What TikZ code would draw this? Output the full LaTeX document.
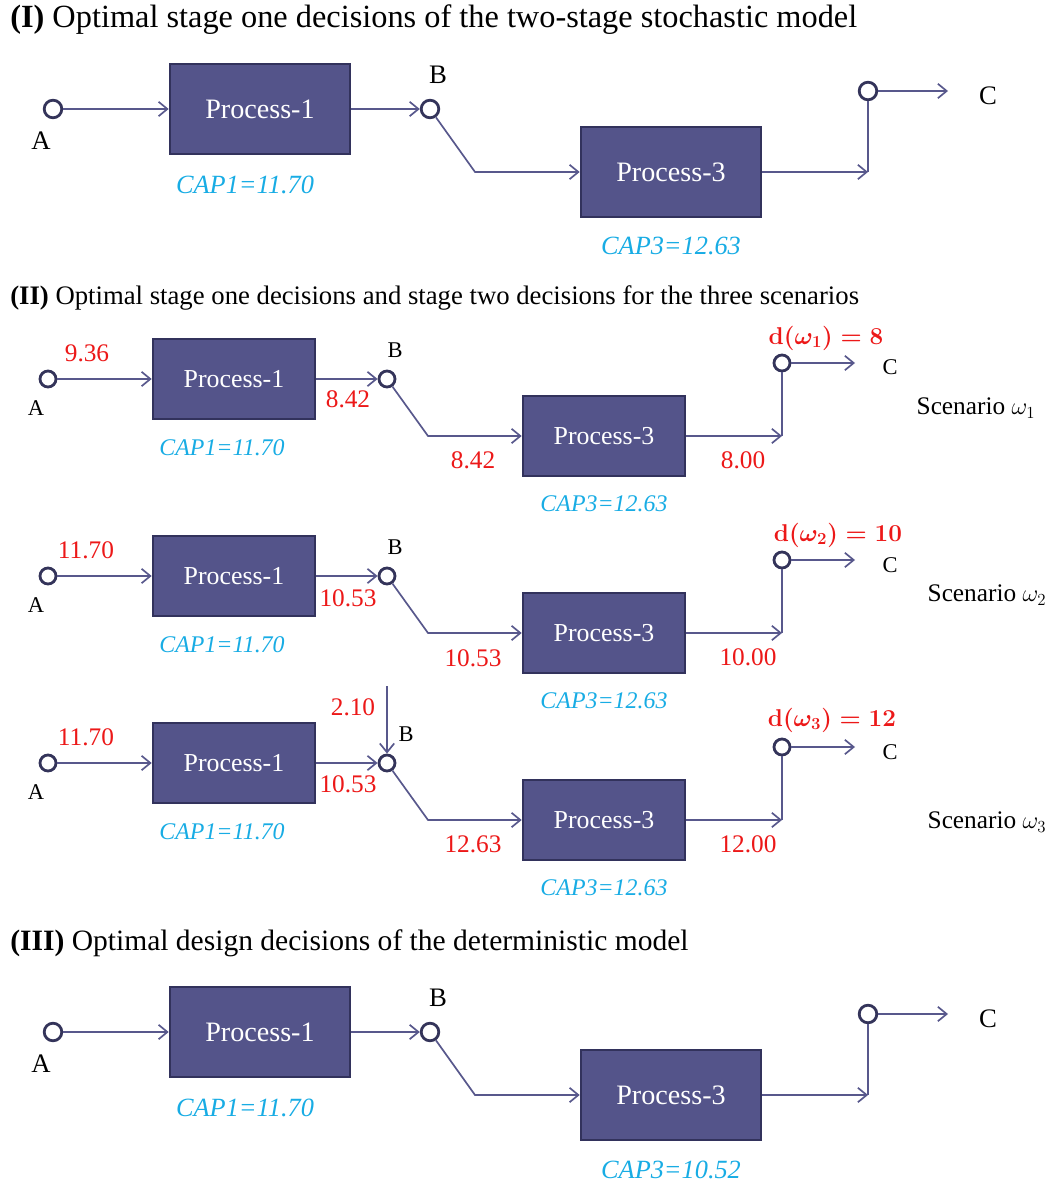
\documentclass[tikz,border=0pt]{standalone}
\usepackage{fontspec}
\setmainfont{Liberation Serif}
\usepackage{tikz}
\usetikzlibrary{arrows.meta}

\definecolor{boxfill}{RGB}{84,84,138}
\definecolor{boxline}{RGB}{50,50,92}
\definecolor{flux}{RGB}{88,88,140}
\definecolor{circline}{RGB}{52,52,90}
\definecolor{capcol}{RGB}{24,172,228}
\definecolor{valcol}{RGB}{236,24,24}

\begin{document}
\begin{tikzpicture}[x=0.025cm,y=-0.025cm]
\tikzset{boite/.style={draw=boxline, fill=boxfill, line width=1.8pt, text=white, minimum width=4.5cm, minimum height=2.25cm, font=\fontsize{20}{24}\selectfont},
petiteboite/.style={boite, minimum width=4.05cm, minimum height=2cm, font=\fontsize{18.4}{22}\selectfont},
rond/.style={draw=circline, fill=white, circle, line width=2pt, minimum size=0.44cm, inner sep=0pt},
petitrond/.style={rond, minimum size=0.4cm},
fleche/.style={draw=flux, line width=1.2pt, -{Straight Barb[length=2.2mm,width=3.6mm]}},
ligne/.style={draw=flux, line width=1.2pt},
etiq/.style={inner sep=0pt, font=\fontsize{19}{22}\selectfont},
petiteetiq/.style={inner sep=0pt, font=\fontsize{16}{19}\selectfont},
capa/.style={inner sep=0pt, text=capcol, font=\itshape\fontsize{18.7}{22}\selectfont},
petitcapa/.style={inner sep=0pt, text=capcol, font=\itshape\fontsize{17}{20}\selectfont},
val/.style={inner sep=0pt, text=valcol, font=\fontsize{18}{21}\selectfont},
demande/.style={inner sep=0pt, text=valcol, font=\bfseries\boldmath\fontsize{18}{21}\selectfont},
scen/.style={inner sep=0pt, font=\fontsize{18}{21}\selectfont},
titre/.style={inner sep=0pt, anchor=west}}
\useasboundingbox (0,0) rectangle (1054,1187);

% (I) two-stage stochastic model
\node[titre, font=\fontsize{23}{27}\selectfont] (T0) at (10,20) {\textbf{(I)} Optimal stage one decisions of the two-stage stochastic model};
\node[rond] (A0) at (53,109) {};
\node[etiq] (lA0) at (41,141) {A};
\node[boite] (Pa0) at (260,109) {Process-1};
\node[capa] (cA0) at (245,185) {CAP1=11.70};
\node[rond] (B0) at (430,109) {};
\node[etiq] (lB0) at (438,75) {B};
\coordinate (K0) at (475,172);
\node[boite] (Pc0) at (671,172) {Process-3};
\node[capa] (cC0) at (671,246) {CAP3=12.63};
\coordinate (J0) at (868,172);
\node[rond] (C0) at (868,91) {};
\coordinate (E0) at (948,91);
\node[etiq] (lC0) at (988,96) {C};
\draw[fleche] (A0) -- (Pa0);
\draw[fleche] (Pa0) -- (B0);
\draw[fleche] (B0) -- (K0) -- (Pc0);
\draw[fleche] (Pc0) -- (J0);
\draw[ligne] (J0) -- (C0);
\draw[fleche] (C0) -- (E0);

% (II) scenarios
\node[titre, font=\fontsize{19}{23}\selectfont] (T1) at (10,298) {\textbf{(II)} Optimal stage one decisions and stage two decisions for the three scenarios};

% scenario 1
\node[petitrond] (A1) at (48,379) {};
\node[petiteetiq] (lA1) at (36,408) {A};
\node[val] (v1) at (87,353) {9.36};
\node[petiteboite] (Pa1) at (234,379) {Process-1};
\node[petitcapa] (cA1) at (222,448) {CAP1=11.70};
\node[val] (f1) at (348,399) {8.42};
\node[petitrond] (B1) at (387,379) {};
\node[petiteetiq] (lB1) at (395,350) {B};
\coordinate (K1) at (428,436);
\node[val] (g1) at (473,460) {8.42};
\node[petiteboite] (Pc1) at (604,436) {Process-3};
\node[petitcapa] (cC1) at (604,504) {CAP3=12.63};
\coordinate (J1) at (782,436);
\node[val] (h1) at (743,460) {8.00};
\node[petitrond] (C1) at (782,363) {};
\node[demande] (d1) at (826,338) {$\mathbf{d}(\omega_1) = \mathbf{8}$};
\coordinate (E1) at (855,363);
\node[petiteetiq] (lC1) at (890,367) {C};
\node[scen] (S1) at (976,408) {Scenario $\omega_1$};
\draw[fleche] (A1) -- (Pa1);
\draw[fleche] (Pa1) -- (B1);
\draw[fleche] (B1) -- (K1) -- (Pc1);
\draw[fleche] (Pc1) -- (J1);
\draw[ligne] (J1) -- (C1);
\draw[fleche] (C1) -- (E1);

% scenario 2
\node[petitrond] (A2) at (48,576) {};
\node[petiteetiq] (lA2) at (36,605) {A};
\node[val] (v2) at (86,550) {11.70};
\node[petiteboite] (Pa2) at (234,576) {Process-1};
\node[petitcapa] (cA2) at (222,645) {CAP1=11.70};
\node[val] (f2) at (348,598) {10.53};
\node[petitrond] (B2) at (387,576) {};
\node[petiteetiq] (lB2) at (395,547) {B};
\coordinate (K2) at (428,633);
\node[val] (g2) at (473,658) {10.53};
\node[petiteboite] (Pc2) at (604,633) {Process-3};
\node[petitcapa] (cC2) at (604,701) {CAP3=12.63};
\coordinate (J2) at (782,633);
\node[val] (h2) at (748,657) {10.00};
\node[petitrond] (C2) at (782,560) {};
\node[demande] (d2) at (838,535) {$\mathbf{d}(\omega_2) = \mathbf{10}$};
\coordinate (E2) at (855,560);
\node[petiteetiq] (lC2) at (890,565) {C};
\node[scen] (S2) at (987,595) {Scenario $\omega_2$};
\draw[fleche] (A2) -- (Pa2);
\draw[fleche] (Pa2) -- (B2);
\draw[fleche] (B2) -- (K2) -- (Pc2);
\draw[fleche] (Pc2) -- (J2);
\draw[ligne] (J2) -- (C2);
\draw[fleche] (C2) -- (E2);

% scenario 3
\node[petitrond] (A3) at (48,763) {};
\node[petiteetiq] (lA3) at (36,792) {A};
\node[val] (v3) at (86,737) {11.70};
\node[petiteboite] (Pa3) at (234,763) {Process-1};
\node[petitcapa] (cA3) at (222,832) {CAP1=11.70};
\node[val] (f3) at (348,784) {10.53};
\node[petitrond] (B3) at (387,763) {};
\node[petiteetiq] (lB3) at (406,734) {B};
\coordinate (F3) at (387,686);
\node[val] (x3) at (353,707) {2.10};
\coordinate (K3) at (428,820);
\node[val] (g3) at (473,844) {12.63};
\node[petiteboite] (Pc3) at (604,820) {Process-3};
\node[petitcapa] (cC3) at (604,888) {CAP3=12.63};
\coordinate (J3) at (782,820);
\node[val] (h3) at (748,844) {12.00};
\node[petitrond] (C3) at (782,747) {};
\node[demande] (d3) at (832,720) {$\mathbf{d}(\omega_3) = \mathbf{12}$};
\coordinate (E3) at (855,747);
\node[petiteetiq] (lC3) at (890,752) {C};
\node[scen] (S3) at (987,822) {Scenario $\omega_3$};
\draw[fleche] (A3) -- (Pa3);
\draw[fleche] (Pa3) -- (B3);
\draw[fleche] (F3) -- (B3);
\draw[fleche] (B3) -- (K3) -- (Pc3);
\draw[fleche] (Pc3) -- (J3);
\draw[ligne] (J3) -- (C3);
\draw[fleche] (C3) -- (E3);

% (III) deterministic model
\node[titre, font=\fontsize{21}{25}\selectfont] (T4) at (10,943) {\textbf{(III)} Optimal design decisions of the deterministic model};
\node[rond] (A4) at (53,1032) {};
\node[etiq] (lA4) at (41,1064) {A};
\node[boite] (Pa4) at (260,1032) {Process-1};
\node[capa] (cA4) at (245,1108) {CAP1=11.70};
\node[rond] (B4) at (430,1032) {};
\node[etiq] (lB4) at (438,998) {B};
\coordinate (K4) at (475,1095);
\node[boite] (Pc4) at (671,1095) {Process-3};
\node[capa] (cC4) at (671,1170) {CAP3=10.52};
\coordinate (J4) at (868,1095);
\node[rond] (C4) at (868,1014) {};
\coordinate (E4) at (948,1014);
\node[etiq] (lC4) at (988,1019) {C};
\draw[fleche] (A4) -- (Pa4);
\draw[fleche] (Pa4) -- (B4);
\draw[fleche] (B4) -- (K4) -- (Pc4);
\draw[fleche] (Pc4) -- (J4);
\draw[ligne] (J4) -- (C4);
\draw[fleche] (C4) -- (E4);
\end{tikzpicture}
\end{document}
